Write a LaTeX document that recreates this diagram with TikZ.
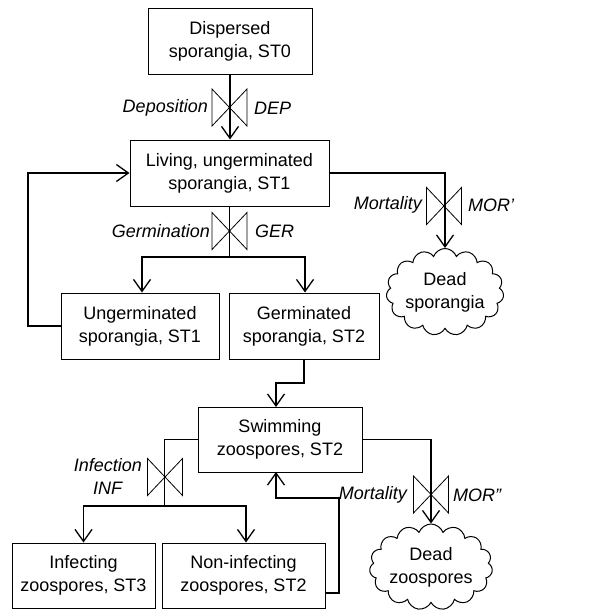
\documentclass[tikz,border=0pt]{standalone}
\usepackage{fontspec}
\setmainfont{Liberation Sans}
\usetikzlibrary{arrows.meta,shapes.symbols}
\begin{document}
\begin{tikzpicture}[x=1pt,y=-1pt,
  box/.style={draw, line width=1pt, minimum width=#1, minimum height=65pt, align=center, inner sep=0pt, font=\fontsize{18}{23}\selectfont},
  deadcloud/.style={cloud, cloud puffs=15, cloud puff arc=140, cloud ignores aspect, draw, line width=1pt, minimum width=110pt, minimum height=87pt, inner sep=0pt, align=center, font=\fontsize{18}{23}\selectfont},
  conn/.style={line width=1pt},
  flow/.style={line width=1.5pt, -{Straight Barb[length=12pt,width=17pt,line width=1.3pt]}},
  valvestyle/.style={line width=0.8pt},
  lab/.style={inner sep=0pt, font=\fontsize{18}{23}\selectfont\itshape}]
\useasboundingbox (0,0) rectangle (594,610);
% boxes
\node[box=164pt] (st0) at (230,41.5) {Dispersed\\sporangia, ST0};
\node[box=199pt, minimum height=66pt] (st1) at (229.5,173) {Living, ungerminated\\sporangia, ST1};
\node[box=158pt, minimum height=66pt] (ug) at (140,326) {Ungerminated\\sporangia, ST1};
\node[box=150pt, minimum height=66pt] (g) at (304,326) {Germinated\\sporangia, ST2};
\node[box=164pt] (sw) at (280,439.5) {Swimming\\zoospores, ST2};
\node[box=143pt] (inf) at (83.5,575.5) {Infecting\\zoospores, ST3};
\node[box=163pt] (ni) at (243.5,575.5) {Non-infecting\\zoospores, ST2};
\node[deadcloud] (c1) at (445,292) {Dead\\sporangia};
\node[deadcloud, minimum width=112pt, minimum height=86pt] (c2) at (431,567) {Dead\\zoospores};
% coordinates
\coordinate (j1) at (229.5,257);
\coordinate (loopx) at (28,326);
\coordinate (gb) at (304,383);
\coordinate (gt) at (276,383);
\coordinate (swin) at (276,407);
\coordinate (j2) at (164,506);
\coordinate (nia) at (325,593);
\coordinate (nib) at (339,593);
\coordinate (nic) at (339,498);
\coordinate (nid) at (276,498);
\coordinate (swout) at (276,472);
% connectors
\draw[flow] (st0.south) -- (st0.south |- st1.north);
\draw[conn] (st1.south) -- (j1);
\draw[flow] (j1) -| ([xshift=2pt]ug.north);
\draw[flow] (j1) -| ([xshift=1pt]g.north);
\draw[flow] (ug.west) -- (loopx) |- (st1.west);
\draw[flow] (st1.east) -| (c1.north);
\draw[flow] (g.south) -- (gb) -- (gt) -- (swin);
\draw[conn] (sw.west) -| (j2);
\draw[flow] (j2) -| (inf.north);
\draw[flow] (j2) -| ([xshift=2.5pt]ni.north);
\draw[flow] (nia) -- (nib) -- (nic) -- (nid) -- (swout);
\draw[flow] (sw.east) -| (c2.north);
% valves
\foreach \vx/\vy in {229.5/107.5, 229.5/231, 444/206, 165/477, 431/494.5}{
  \draw[valvestyle] (\vx-17.5,\vy-18.5) -- (\vx-17.5,\vy+18.5) -- (\vx+17.5,\vy-18.5) -- (\vx+17.5,\vy+18.5) -- cycle;
}
% labels
\node[lab, anchor=east] (l1) at (208,108) {Deposition};
\node[lab, anchor=west] (l2) at (254,108) {DEP};
\node[lab, anchor=east] (l3) at (210,231) {Germination};
\node[lab, anchor=west] (l4) at (255,231) {GER};
\node[lab, anchor=east] (l5) at (422,205) {Mortality};
\node[lab, anchor=west] (l6) at (468,205) {MOR'};
\node[lab, anchor=east] (l7) at (142,465) {Infection};
\node[lab, anchor=center] (l8) at (107.5,488) {INF};
\node[lab, anchor=east] (l9) at (407,495) {Mortality};
\node[lab, anchor=west] (l10) at (453,495) {MOR''};
\end{tikzpicture}
\end{document}
